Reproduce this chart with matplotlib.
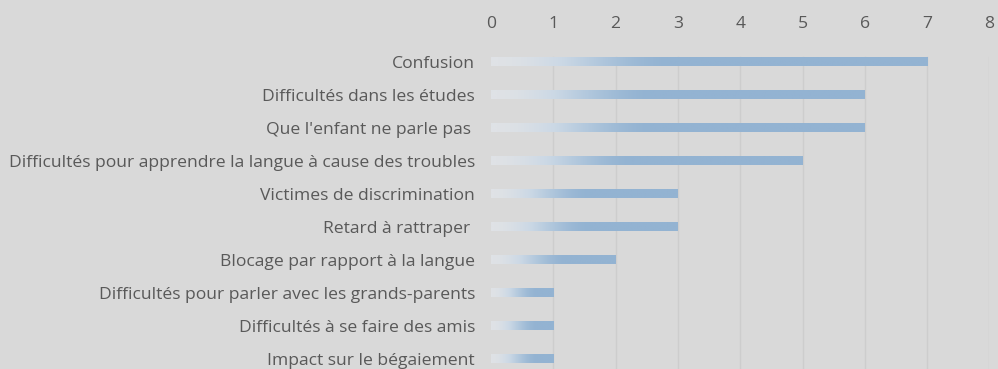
import numpy as np
import matplotlib
matplotlib.use("Agg")
import matplotlib.pyplot as plt
from matplotlib.colors import LinearSegmentedColormap

categories = [
    "Confusion",
    "Difficultés dans les études",
    "Que l'enfant ne parle pas ",
    "Difficultés pour apprendre la langue à cause des troubles",
    "Victimes de discrimination",
    "Retard à rattraper ",
    "Blocage par rapport à la langue",
    "Difficultés pour parler avec les grands-parents",
    "Difficultés à se faire des amis",
    "Impact sur le bégaiement",
]
values = [7, 6, 6, 5, 3, 3, 2, 1, 1, 1]
ticks = [0, 1, 2, 3, 4, 5, 6, 7, 8]

BG = "#d9d9d9"
TEXT = "#595959"
GRID = "#cdcdcd"
cmap = LinearSegmentedColormap.from_list("bar", ["#dfe2e6", "#cbd8e5", "#afc6dc", "#93b3d2"])

plt.rcParams["font.family"] = ["Open Sans", "DejaVu Sans"]

fig = plt.figure(figsize=(9.98, 3.69), dpi=100, facecolor=BG)
W, H = 998, 369
x0, unit = 491, 62.3
top, step = 45.5, 33.0
n = len(categories)
ax = fig.add_axes([x0 / W, (H - (top + n * step)) / H, 8 * unit / W, n * step / H])
ax.set_facecolor(BG)
ax.set_xlim(0, 8)
ax.set_ylim(n - 0.5, -0.5)

# vertical gridlines
for t in ticks[1:]:
    ax.plot([t, t], [-0.15, n - 0.5], color=GRID, lw=1.0, zorder=1)

# gradient-filled bars
bar_h = 9.0 / step
for i, v in enumerate(values):
    xs = np.linspace(0, v, 400)
    ramp_end = 0.75 * v ** 0.7
    t = np.clip(xs / ramp_end, 0, 1)
    t = t * t * (3 - 2 * t)
    ax.imshow(t[np.newaxis, :], extent=(0, v, i + bar_h / 2, i - bar_h / 2),
              cmap=cmap, vmin=0, vmax=1, aspect="auto", interpolation="bilinear",
              zorder=2)

ax.set_xticks(ticks)
ax.set_xticklabels([str(t) for t in ticks])
ax.xaxis.tick_top()
ax.set_yticks(range(n))
ax.set_yticklabels(categories)
ax.tick_params(axis="both", length=0, colors=TEXT, labelsize=12.6)
ax.tick_params(axis="y", pad=11.5)
ax.tick_params(axis="x", pad=10)
for s in ax.spines.values():
    s.set_visible(False)

fig.savefig("out.png", dpi=100, facecolor=BG)
